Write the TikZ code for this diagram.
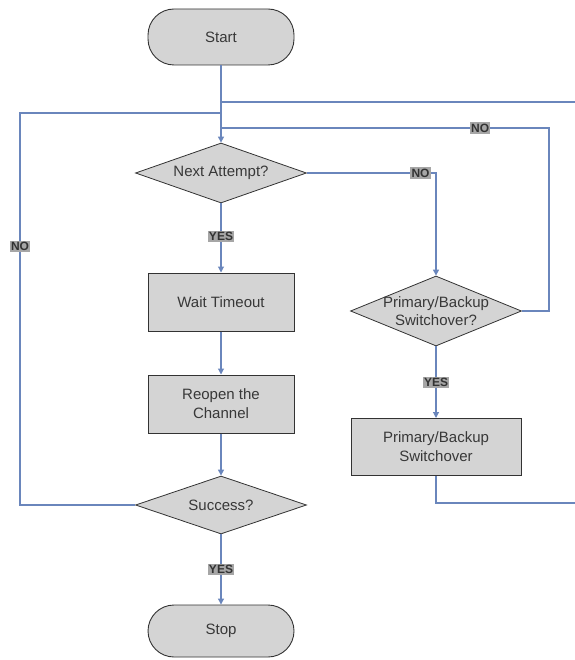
\documentclass[tikz,border=0pt]{standalone}
\usepackage{fontspec}
\setmainfont{Liberation Sans}
\usetikzlibrary{shapes.geometric,arrows.meta}
\definecolor{flowfill}{HTML}{D4D4D4}
\definecolor{flowline}{HTML}{6A86BC}
\definecolor{tagfill}{HTML}{A6A6A6}
\tikzset{
  x=1pt, y=-1pt,
  every node/.style={font=\fontsize{15}{19}\selectfont, text=black!78},
  terminal/.style={draw=black!80, line width=0.9pt, fill=flowfill, rounded corners=26pt,
    minimum width=146pt, minimum height=56pt, inner sep=0pt},
  process/.style={draw=black!80, line width=1pt, fill=flowfill,
    minimum width=146pt, minimum height=58pt, inner sep=0pt, align=center},
  decision/.style={draw=black!80, line width=0.8pt, fill=flowfill, diamond, aspect=2.9,
    inner sep=0pt, align=center},
  link/.style={draw=flowline, line width=1.1pt},
  flow/.style={link, -{Triangle[length=6pt,width=6pt]}},
  tag/.style={fill=tagfill, inner sep=1.3pt, font=\fontsize{12}{12}\selectfont\bfseries, text=black!80},
}
\begin{document}
\begin{tikzpicture}
\useasboundingbox (0,0) rectangle (574,660);

% nodes
\node[terminal] (start) at (221,37) {Start};
\node[decision, minimum width=171pt, minimum height=60pt] (next) at (221,173) {Next Attempt?};
\node[process] (wait) at (221,302) {Wait Timeout};
\node[process] (reopen) at (221,404) {Reopen the\\Channel};
\node[decision, minimum width=171pt, minimum height=58pt] (succ) at (221,505) {Success?};
\node[terminal, minimum height=52pt] (stop) at (221,631) {Stop};
% the switchover question runs past the diamond's corners, so its text is set on top
\node[decision, minimum width=171pt, minimum height=70pt] (swq) at (436,311) {};
\node[align=center, inner sep=0pt, font=\fontsize{15}{18}\selectfont] (swqtext) at (swq.center) {Primary/Backup\\Switchover?};
\node[process, minimum width=170pt, minimum height=57pt] (sw) at (436,447) {Primary/Backup\\Switchover};

% junction points of the return loops
\coordinate (jA) at (221,102);
\coordinate (jB) at (221,113);
\coordinate (jC) at (221,128);
\coordinate (lft) at (20,113);
\coordinate (rgt) at (549,128);
\coordinate (edgeTop) at (579,102);
\coordinate (edgeBot) at (579,503);
\coordinate (swBot) at (436,503);

% main flow
\draw[flow] (start) -- (next);
\draw[flow] (next) -- node[tag, pos=0.48] {YES} (wait);
\draw[flow] (wait) -- (reopen);
\draw[flow] (reopen) -- (succ);
\draw[flow] (succ) -- node[tag, pos=0.5] {YES} (stop);

% next attempt refused: go to switchover decision
\draw[flow] (next.east) -- node[tag, pos=0.88] {NO} (next.east -| swq.north) -- (swq.north);
\draw[flow] (swq) -- node[tag, pos=0.5] {YES} (sw);

% return loops
\draw[link] (succ.west) -- (succ.west -| lft) -- node[tag, pos=0.66] {NO} (lft) -- (jB);
\draw[link] (swq.east) -- (swq.east -| rgt) -- (rgt) -- node[tag, pos=0.21] {NO} (jC);
\draw[link] (sw.south) -- (swBot) -- (edgeBot) -- (edgeTop) -- (jA);
\end{tikzpicture}
\end{document}
